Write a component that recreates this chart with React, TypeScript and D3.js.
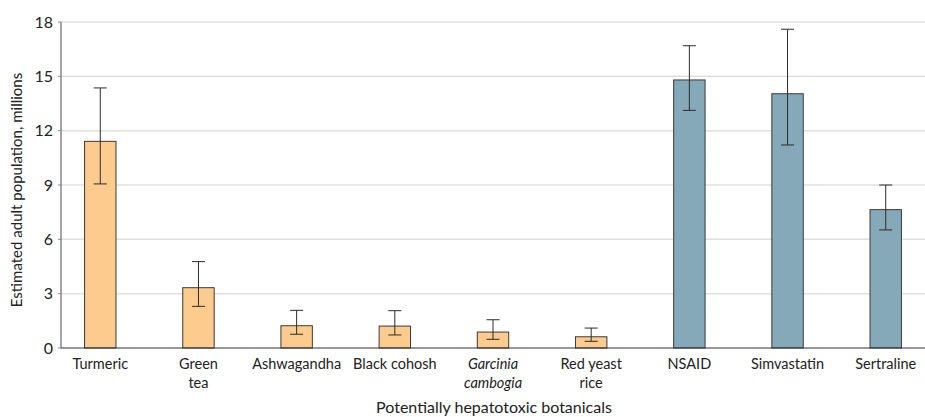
import React from "react";
import * as d3 from "d3";

const categories = ["Turmeric", "Green tea", "Ashwagandha", "Black cohosh", "Garcinia cambogia", "Red yeast rice", "NSAID", "Simvastatin", "Sertraline"];
const labelLines = [["Turmeric"], ["Green", "tea"], ["Ashwagandha"], ["Black cohosh"], ["Garcinia", "cambogia"], ["Red yeast", "rice"], ["NSAID"], ["Simvastatin"], ["Sertraline"]];
const italicLabels = ["Garcinia cambogia"];
const values = [11.41, 3.33, 1.23, 1.21, 0.88, 0.62, 14.8, 14.04, 7.64];
const lower = [9.06, 2.3, 0.76, 0.72, 0.48, 0.37, 13.12, 11.21, 6.52];
const upper = [14.36, 4.77, 2.08, 2.06, 1.56, 1.1, 16.69, 17.6, 9.0];
const groups = ["botanical", "botanical", "botanical", "botanical", "botanical", "botanical", "drug", "drug", "drug"];
const yTicks = [0, 3, 6, 9, 12, 15, 18];

const width = 925;
const height = 417;
const margin = { top: 22, right: 0, bottom: 69, left: 61 };
const font = "Lato, sans-serif";

export default function App() {
  const x = d3
    .scaleBand()
    .domain(categories)
    .range([margin.left, width - margin.right])
    .paddingInner(0.68)
    .paddingOuter(0.24);

  const y = d3
    .scaleLinear()
    .domain([0, 18])
    .range([height - margin.bottom, margin.top]);

  const color = d3.scaleOrdinal<string>().domain(["botanical", "drug"]).range(["#fdcb8d", "#85a9b9"]);
  const capHalf = 6.5;

  return (
    <svg
      width={width}
      height={height}
      style={{ position: "absolute", left: 0, top: 0, fontFamily: font }}
    >
      {/* gridlines */}
      {yTicks.filter((t) => t > 0).map((t) => (
        <line key={t} x1={margin.left} x2={width} y1={y(t)} y2={y(t)} stroke="#e0e0e0" strokeWidth={1.5} />
      ))}

      {/* bars */}
      {categories.map((c, i) => (
        <rect
          key={c}
          x={x(c)}
          y={y(values[i])}
          width={x.bandwidth()}
          height={y(0) - y(values[i])}
          fill={color(groups[i])}
          stroke="#3a3a3a"
          strokeWidth={1}
        />
      ))}

      {/* error bars */}
      {categories.map((c, i) => {
        const cx = (x(c) as number) + x.bandwidth() / 2;
        return (
          <g key={c} stroke="#2b2b2b" strokeWidth={1}>
            <line x1={cx} x2={cx} y1={y(upper[i])} y2={y(lower[i])} />
            <line x1={cx - capHalf} x2={cx + capHalf} y1={y(upper[i])} y2={y(upper[i])} />
            <line x1={cx - capHalf} x2={cx + capHalf} y1={y(lower[i])} y2={y(lower[i])} />
          </g>
        );
      })}

      {/* y axis */}
      <line x1={margin.left} x2={margin.left} y1={y(18)} y2={y(0)} stroke="#888" strokeWidth={1.5} />
      {yTicks.map((t) => (
        <g key={t}>
          <line x1={margin.left - 3} x2={margin.left} y1={y(t)} y2={y(t)} stroke="#888" strokeWidth={1} />
          <text x={margin.left - 8} y={y(t)} dy="0.35em" textAnchor="end" fontSize={16} fill="#222">
            {t}
          </text>
        </g>
      ))}

      {/* x axis */}
      <line x1={margin.left} x2={width} y1={y(0)} y2={y(0)} stroke="#333" strokeWidth={1.2} />
      {categories.map((c, i) => {
        const cx = (x(c) as number) + x.bandwidth() / 2;
        return (
          <text
            key={c}
            x={cx}
            y={y(0) + 21}
            textAnchor="middle"
            fontSize={14.5}
            fill="#222"
            fontStyle={italicLabels.includes(c) ? "italic" : "normal"}
          >
            {labelLines[i].map((l, j) => (
              <tspan key={j} x={cx} dy={j === 0 ? 0 : 19}>
                {l}
              </tspan>
            ))}
          </text>
        );
      })}

      {/* titles */}
      <text x={494} y={height - 4} textAnchor="middle" fontSize={16} fill="#222">
        Potentially hepatotoxic botanicals
      </text>
      <text
        transform={`translate(22, 190) rotate(-90)`}
        textAnchor="middle"
        fontSize={15}
        fill="#222"
      >
        Estimated adult population, millions
      </text>
    </svg>
  );
}
